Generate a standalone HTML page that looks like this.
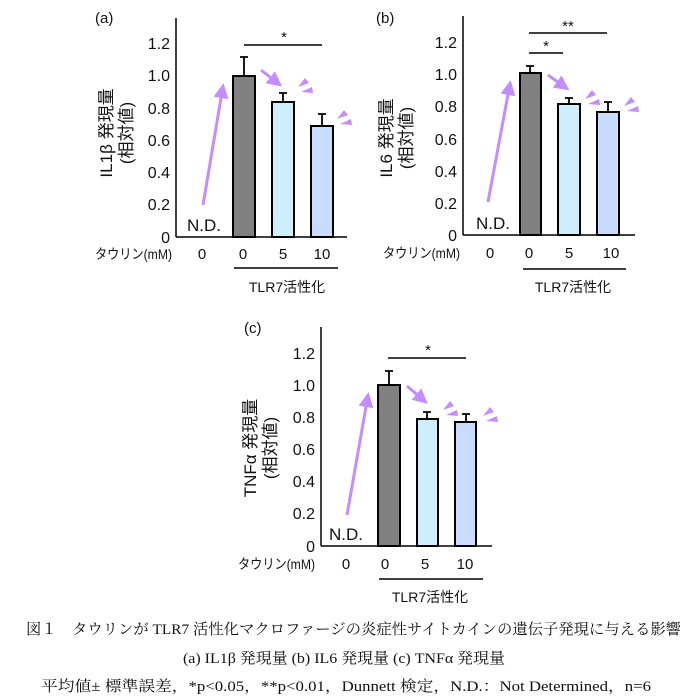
<!DOCTYPE html>
<html><head><meta charset="utf-8"><style>
body{margin:0;background:#fff;}
svg{display:block;}
text{font-family:"Liberation Sans","Noto Sans CJK JP",sans-serif;fill:#111;}
.s{font-family:"Liberation Serif","Noto Serif CJK SC",serif;}
</style></head><body>
<svg width="691" height="700" viewBox="0 0 691 700" xmlns="http://www.w3.org/2000/svg">
<defs>
<g id="w"><polygon points="0,0 7,-9 11,-4" fill="#c58cff"/><polygon points="3,5 14,0 15,6" fill="#c58cff"/></g>
<marker id="ah" markerWidth="5" markerHeight="5" refX="2" refY="2.5" orient="auto"><polygon points="0,0 5,2.5 0,5" fill="#c58cff"/></marker>
</defs>

<!-- Panel a -->
<g font-size="15">
<text x="95" y="23">(a)</text>
<line x1="176" y1="18" x2="176" y2="237" stroke="#000" stroke-width="1.5"/>
<line x1="176" y1="237" x2="347" y2="237" stroke="#000" stroke-width="1.5"/>
<g text-anchor="end" font-size="16">
<text x="170" y="49">1.2</text><text x="170" y="81">1.0</text><text x="170" y="114">0.8</text><text x="170" y="146">0.6</text><text x="170" y="178">0.4</text><text x="170" y="210">0.2</text><text x="170" y="243">0</text>
</g>
<text transform="translate(112,133) rotate(-90)" text-anchor="middle" font-size="17">IL1β 発現量</text>
<text transform="translate(132,133) rotate(-90)" text-anchor="middle" font-size="17">(相対値)</text>
<rect x="233" y="76" width="22" height="161" fill="#808080" stroke="#000" stroke-width="2"/>
<rect x="272" y="102" width="22" height="135" fill="#cceeff" stroke="#000" stroke-width="2"/>
<rect x="311" y="126" width="22" height="111" fill="#c9dcff" stroke="#000" stroke-width="2"/>
<path d="M244 76V57M240 57h8M283 102V93M279 93h8M322 126V114M318 114h8" stroke="#000" stroke-width="1.8"/>
<line x1="244" y1="45" x2="322" y2="45" stroke="#000" stroke-width="1.5"/><text x="284" y="42" text-anchor="middle">*</text>
<text x="204" y="231" text-anchor="middle" font-size="17">N.D.</text>
<line x1="203" y1="205" x2="222" y2="92" stroke="#c58cff" stroke-width="3" marker-end="url(#ah)"/>
<line x1="261" y1="70" x2="275" y2="81" stroke="#c58cff" stroke-width="3" marker-end="url(#ah)"/>
<use href="#w" x="298" y="87"/><use href="#w" x="337" y="119"/>
<g font-size="15" text-anchor="middle"><text x="202" y="259">0</text><text x="243" y="259">0</text><text x="283" y="259">5</text><text x="322" y="259">10</text></g>
<text x="95" y="259" font-size="14" textLength="77" lengthAdjust="spacingAndGlyphs">タウリン(mM)</text>
<line x1="234" y1="268" x2="338" y2="268" stroke="#000" stroke-width="1.5"/>
<text x="287" y="292" text-anchor="middle" font-size="14">TLR7活性化</text>
</g>

<!-- Panel b -->
<g font-size="15">
<text x="376" y="23">(b)</text>
<line x1="463" y1="16" x2="463" y2="235" stroke="#000" stroke-width="1.5"/>
<line x1="463" y1="235" x2="635" y2="235" stroke="#000" stroke-width="1.5"/>
<g text-anchor="end" font-size="16">
<text x="457" y="48">1.2</text><text x="457" y="80">1.0</text><text x="457" y="112">0.8</text><text x="457" y="145">0.6</text><text x="457" y="177">0.4</text><text x="457" y="209">0.2</text><text x="457" y="241">0</text>
</g>
<text transform="translate(392,138) rotate(-90)" text-anchor="middle" font-size="17">IL6 発現量</text>
<text transform="translate(412,138) rotate(-90)" text-anchor="middle" font-size="17">(相対値)</text>
<rect x="520" y="73" width="21" height="162" fill="#808080" stroke="#000" stroke-width="2"/>
<rect x="558" y="104" width="22" height="131" fill="#cceeff" stroke="#000" stroke-width="2"/>
<rect x="597" y="112" width="22" height="123" fill="#c9dcff" stroke="#000" stroke-width="2"/>
<path d="M530 73V66M526 66h8M569 104V98M565 98h8M608 112V102M604 102h8" stroke="#000" stroke-width="1.8"/>
<line x1="529" y1="33" x2="607" y2="33" stroke="#000" stroke-width="1.5"/><text x="568" y="31" text-anchor="middle">**</text>
<line x1="529" y1="53" x2="563" y2="53" stroke="#000" stroke-width="1.5"/><text x="546" y="51" text-anchor="middle">*</text>
<text x="493" y="229" text-anchor="middle" font-size="17">N.D.</text>
<line x1="488" y1="202" x2="509" y2="89" stroke="#c58cff" stroke-width="3" marker-end="url(#ah)"/>
<line x1="548" y1="75" x2="562" y2="85" stroke="#c58cff" stroke-width="3" marker-end="url(#ah)"/>
<use href="#w" x="585" y="99"/><use href="#w" x="624" y="106"/>
<g font-size="15" text-anchor="middle"><text x="490" y="258">0</text><text x="529" y="258">0</text><text x="569" y="258">5</text><text x="611" y="258">10</text></g>
<text x="383" y="258" font-size="14" textLength="77" lengthAdjust="spacingAndGlyphs">タウリン(mM)</text>
<line x1="523" y1="269" x2="626" y2="269" stroke="#000" stroke-width="1.5"/>
<text x="573" y="292" text-anchor="middle" font-size="14">TLR7活性化</text>
</g>

<!-- Panel c -->
<g font-size="15">
<text x="244" y="333">(c)</text>
<line x1="321" y1="327" x2="321" y2="546" stroke="#000" stroke-width="1.5"/>
<line x1="321" y1="546" x2="492" y2="546" stroke="#000" stroke-width="1.5"/>
<g text-anchor="end" font-size="16">
<text x="315" y="359">1.2</text><text x="315" y="391">1.0</text><text x="315" y="423">0.8</text><text x="315" y="455">0.6</text><text x="315" y="487">0.4</text><text x="315" y="519">0.2</text><text x="315" y="552">0</text>
</g>
<text transform="translate(256,448) rotate(-90)" text-anchor="middle" font-size="17">TNFα 発現量</text>
<text transform="translate(276,448) rotate(-90)" text-anchor="middle" font-size="17">(相対値)</text>
<rect x="378" y="385" width="22" height="161" fill="#808080" stroke="#000" stroke-width="2"/>
<rect x="417" y="419" width="21" height="127" fill="#cceeff" stroke="#000" stroke-width="2"/>
<rect x="455" y="422" width="21" height="124" fill="#c9dcff" stroke="#000" stroke-width="2"/>
<path d="M389 385V371M385 371h8M427 419V412M423 412h8M466 422V414M462 414h8" stroke="#000" stroke-width="1.8"/>
<line x1="388" y1="358" x2="466" y2="358" stroke="#000" stroke-width="1.5"/><text x="428" y="355" text-anchor="middle">*</text>
<text x="346" y="540" text-anchor="middle" font-size="17">N.D.</text>
<line x1="347" y1="515" x2="367" y2="401" stroke="#c58cff" stroke-width="3" marker-end="url(#ah)"/>
<line x1="407" y1="386" x2="421" y2="398" stroke="#c58cff" stroke-width="3" marker-end="url(#ah)"/>
<use href="#w" x="443" y="410"/><use href="#w" x="483" y="416"/>
<g font-size="15" text-anchor="middle"><text x="346" y="569">0</text><text x="385" y="569">0</text><text x="425" y="569">5</text><text x="465" y="569">10</text></g>
<text x="238" y="569" font-size="14" textLength="77" lengthAdjust="spacingAndGlyphs">タウリン(mM)</text>
<line x1="379" y1="579" x2="483" y2="579" stroke="#000" stroke-width="1.5"/>
<text x="430" y="602" text-anchor="middle" font-size="14">TLR7活性化</text>
</g>

<!-- Caption -->
<g class="s" font-size="15">
<text class="s" x="26" y="634" textLength="655" lengthAdjust="spacingAndGlyphs">図１　タウリンが TLR7 活性化マクロファージの炎症性サイトカインの遺伝子発現に与える影響</text>
<text class="s" x="183" y="663" textLength="322" lengthAdjust="spacingAndGlyphs">(a) IL1β 発現量 (b) IL6 発現量 (c) TNFα 発現量</text>
<text class="s" x="41" y="691" textLength="610" lengthAdjust="spacingAndGlyphs">平均値± 標準誤差，*p&lt;0.05，**p&lt;0.01，Dunnett 検定，N.D.：Not Determined，n=6</text>
</g>
</svg>
</body></html>
